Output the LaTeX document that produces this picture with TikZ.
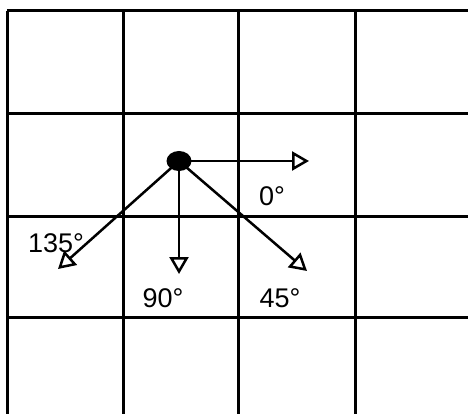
\documentclass[tikz,border=0pt]{standalone}
\usepackage{fontspec}
\setmainfont{Liberation Sans}
\usetikzlibrary{arrows.meta,shapes.geometric}
\begin{document}
\begin{tikzpicture}[x=1pt,y=-1pt,
    gridline/.style={line width=3pt},
    ray/.style={line width=2.5pt,-{Triangle[open,length=17pt,width=19pt,line width=2.5pt]}},
    anglab/.style={font=\fontsize{27}{27}\selectfont, inner sep=0pt}]
        \useasboundingbox (0,0) rectangle (468,414);
        % Grid
        \foreach \x in {7,123,238,355} {
          \draw[gridline] (\x,11) -- (\x,414);
        }
        \foreach \y in {11,114,216,317} {
          \draw[gridline] (7,\y) -- (468,\y);
        }
        % Source dot
        \node[ellipse, fill=black, minimum width=25pt, minimum height=20pt, inner sep=0pt] (dot) at (179,161) {};
        % Arrow tips
        \coordinate (tip0) at (309,161);
        \coordinate (tip45) at (307,271);
        \coordinate (tip90) at (179,274);
        \coordinate (tip135) at (58,269);
        % Rays
        \draw[ray] (dot.center) -- (tip0);
        \draw[ray] (dot.center) -- (tip45);
        \draw[ray] (dot.center) -- (tip90);
        \draw[ray] (dot.center) -- (tip135);
        % Labels
        \node[anglab] (lab0) at (272,196) {0°};
        \node[anglab] (lab45) at (280,298) {45°};
        \node[anglab] (lab90) at (163,298) {90°};
        \node[anglab] (lab135) at (56,243) {135°};
      \end{tikzpicture}
\end{document}
